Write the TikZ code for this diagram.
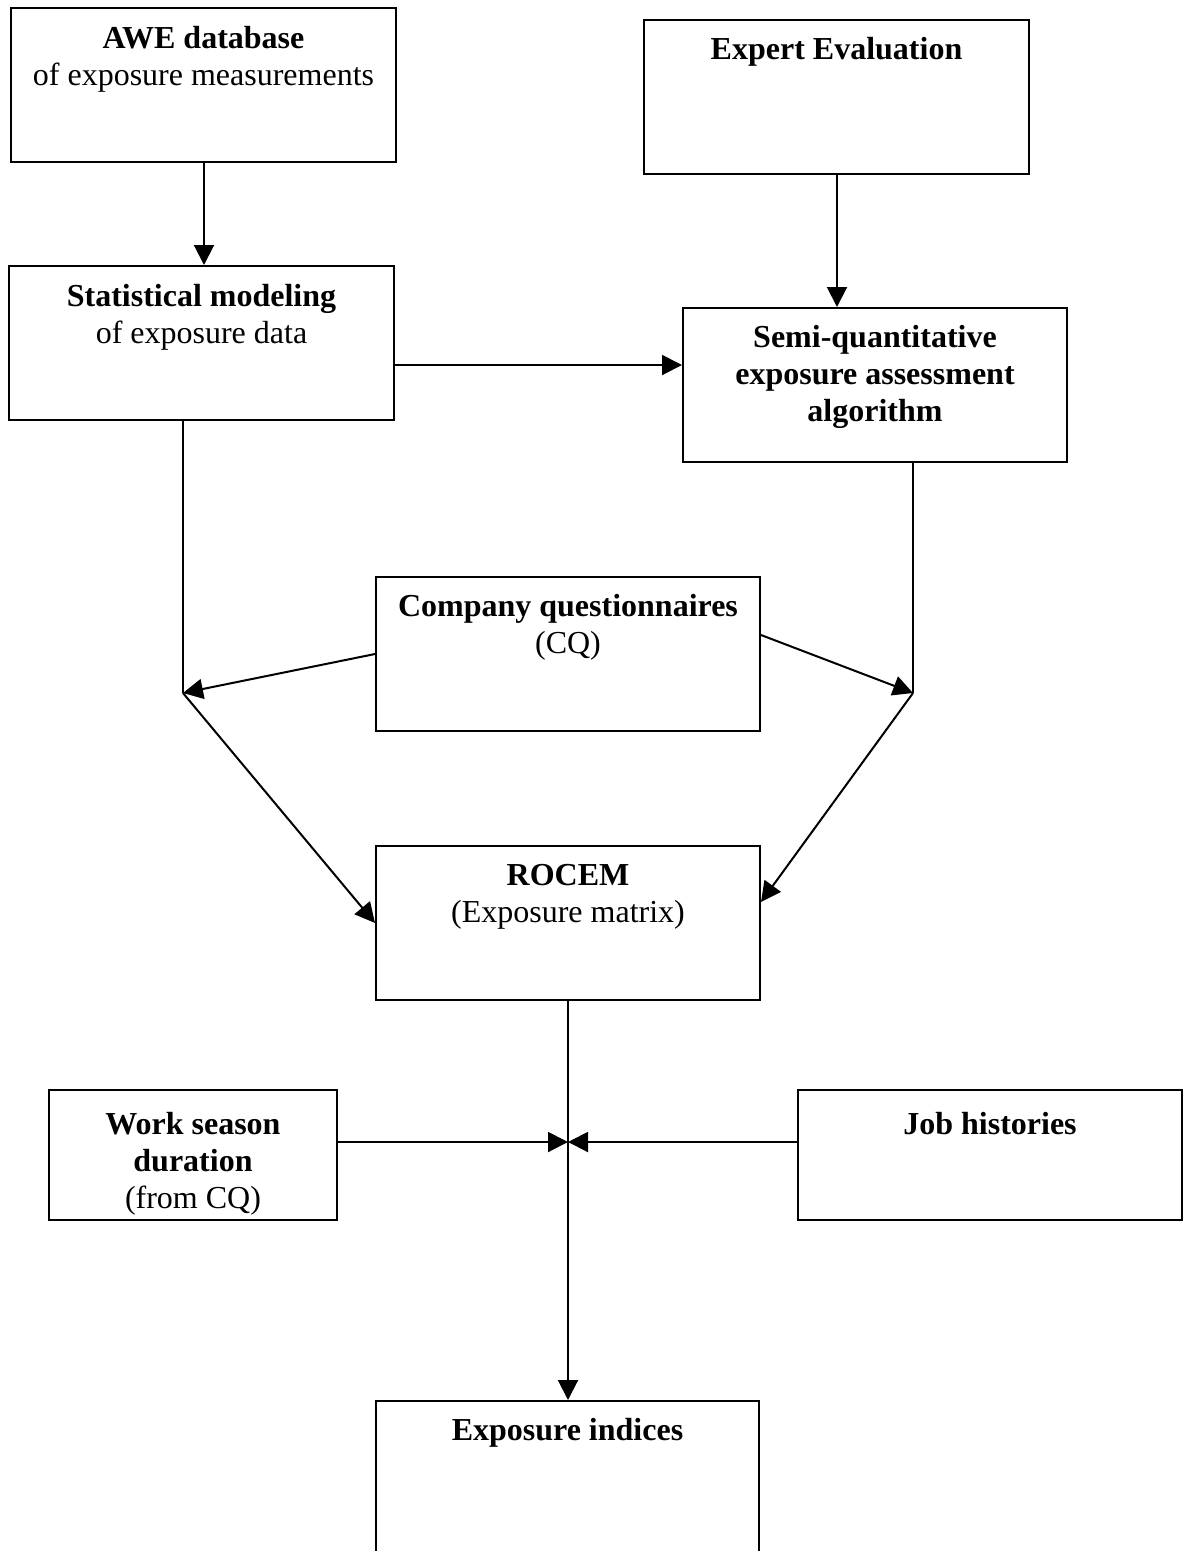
\documentclass[tikz,border=0pt]{standalone}
\usepackage{fontspec}
\setmainfont{Liberation Serif}
\usetikzlibrary{arrows.meta}
\begin{document}
\begin{tikzpicture}[x=1pt,y=-1pt,
  box/.style n args={2}{draw, line width=2pt, minimum width=#1, minimum height=#2, inner sep=0pt},
  txt/.style={anchor=north, align=center, inner sep=0pt, font=\fontsize{32}{37}\selectfont},
  ln/.style={line width=2pt},
  arr/.style={line width=2pt, -{Triangle[length=20pt,width=20pt]}}]
\useasboundingbox (0,0) rectangle (1183,1551);
% boxes
\node[box={385pt}{154pt}] (awe) at (203.5,85) {};
\node[box={385pt}{154pt}] (expert) at (836.5,97) {};
\node[box={385pt}{154pt}] (stat) at (201.5,343) {};
\node[box={384pt}{154pt}] (semi) at (875,385) {};
\node[box={384pt}{154pt}] (cq) at (568,654) {};
\node[box={384pt}{154pt}] (rocem) at (568,923) {};
\node[box={288pt}{130pt}] (work) at (193,1155) {};
\node[box={384pt}{130pt}] (job) at (990,1155) {};
\node[box={383pt}{154pt}] (expo) at (567.5,1478) {};
% texts
\node[txt] (aweT) at ([yshift=-15pt]awe.north) {\strut\textbf{AWE database}\\of exposure measurements};
\node[txt] (expertT) at ([yshift=-14pt]expert.north) {\strut\textbf{Expert Evaluation}};
\node[txt] (statT) at ([yshift=-15pt]stat.north) {\strut\textbf{Statistical modeling}\\of exposure data};
\node[txt] (semiT) at ([yshift=-14pt]semi.north) {\strut\textbf{Semi-quantitative}\\\textbf{exposure assessment}\\\textbf{algorithm}};
\node[txt] (cqT) at ([yshift=-14pt]cq.north) {\strut\textbf{Company questionnaires}\\(CQ)};
\node[txt] (rocemT) at ([yshift=-14pt]rocem.north) {\strut\textbf{ROCEM}\\(Exposure matrix)};
\node[txt] (workT) at ([yshift=-19pt]work.north) {\strut\textbf{Work season}\\\textbf{duration}\\(from CQ)};
\node[txt] (jobT) at ([yshift=-19pt]job.north) {\strut\textbf{Job histories}};
\node[txt] (expoT) at ([yshift=-14pt]expo.north) {\strut\textbf{Exposure indices}};
% junctions
\coordinate (jl) at (183,693);
\coordinate (jr) at (913,693);
\coordinate (jm) at (568,1142);
% connectors
\draw[arr] (awe.south -| 204,0) -- (stat.north -| 204,0);
\draw[arr] (expert.south -| 837,0) -- (semi.north -| 837,0);
\draw[arr] ([yshift=-22pt]stat.east) -- ([yshift=-22pt]stat.east -| semi.west);
\draw[ln] (stat.south -| jl) -- (jl);
\draw[ln] (semi.south -| jr) -- (jr);
\draw[arr] (cq.west) -- (jl);
\draw[arr] ([yshift=19pt]cq.east) -- (jr);
\draw[arr] (jl) -- (rocem.west);
\draw[arr] (jr) -- ([yshift=21pt]rocem.east);
\draw[arr] (rocem.south) -- (rocem.south |- expo.north);
\draw[arr] (work.east |- jm) -- (jm);
\draw[arr] (job.west |- jm) -- (jm);
\end{tikzpicture}
\end{document}
